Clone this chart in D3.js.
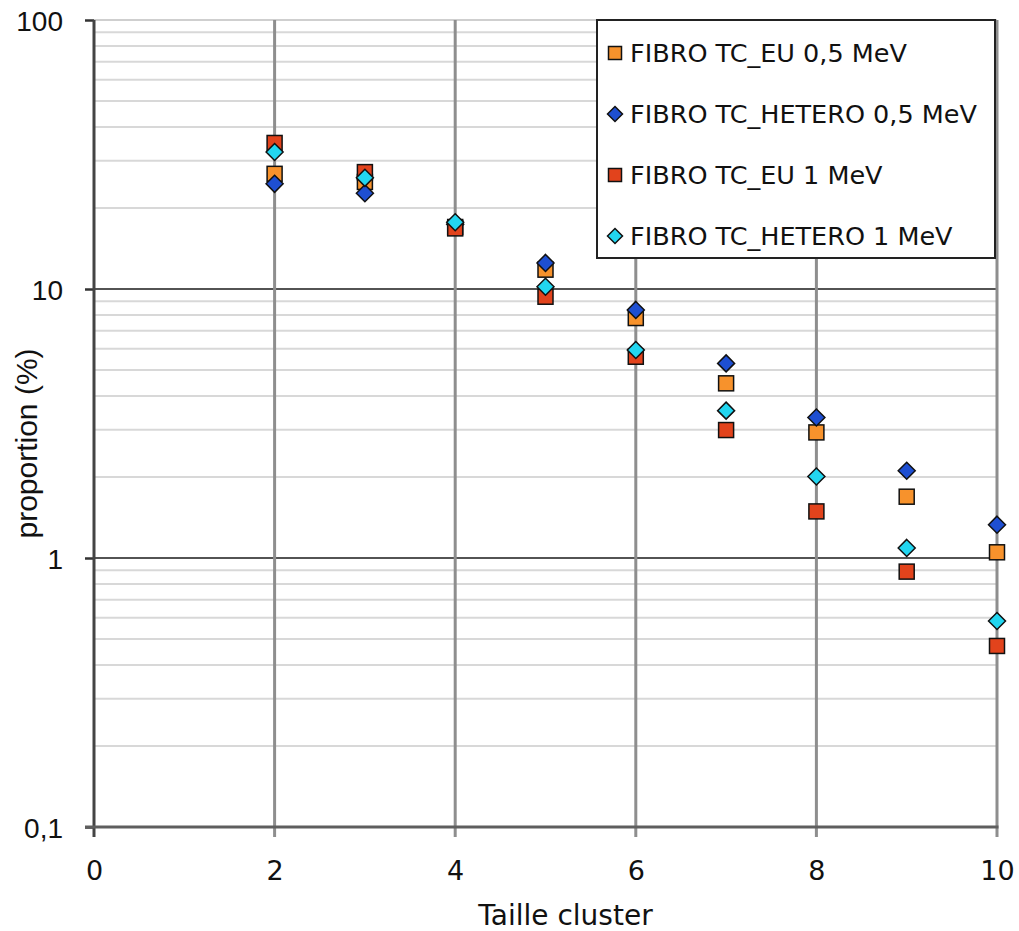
<!DOCTYPE html>
<html><head><meta charset="utf-8">
<script src="https://cdn.jsdelivr.net/npm/d3@7"></script>
<style>body{margin:0;background:#fff}svg{display:block}</style>
</head><body>
<svg id="chart" width="1019" height="931"></svg>
<script>
const xValues = [2, 3, 4, 5, 6, 7, 8, 9, 10];
const seriesNames = ["FIBRO TC_EU 0,5 MeV", "FIBRO TC_HETERO 0,5 MeV", "FIBRO TC_EU 1 MeV", "FIBRO TC_HETERO 1 MeV"];
const euHalf     = [26.8, 25.0, 17.0, 11.8, 7.8, 4.46, 2.93, 1.69, 1.05];
const heteroHalf = [24.6, 22.7, 17.4, 12.5, 8.36, 5.29, 3.33, 2.11, 1.33];
const euOne      = [34.9, 27.2, 16.8, 9.36, 5.6, 2.99, 1.49, 0.89, 0.471];
const heteroOne  = [32.3, 25.9, 17.7, 10.2, 5.93, 3.53, 2.01, 1.09, 0.583];
const seriesColors = ["#F7922C", "#1E4FD2", "#E2431C", "#22D6F0"];
const seriesShapes = ["square", "diamond", "square", "diamond"];
const xTicks = [0, 2, 4, 6, 8, 10];
const yTicks = [0.1, 1, 10, 100];
const yTickLabels = ["0,1", "1", "10", "100"];

const allSeries = [euHalf, heteroHalf, euOne, heteroOne];
const svg = d3.select("#chart");
const m = {left: 94, right: 22, top: 20, bottom: 104};
const W = 1019, H = 931;
const x = d3.scaleLinear().domain([0, 10]).range([m.left, W - m.right]);
const y = d3.scaleLog().domain([0.1, 100]).range([H - m.bottom, m.top]);

// minor y gridlines
const minor = [];
[0.1, 1, 10].forEach(d => { for (let k = 2; k <= 9; k++) minor.push(d * k); });
svg.append("g").selectAll("line").data(minor).join("line")
  .attr("x1", x(0)).attr("x2", x(10))
  .attr("y1", d => y(d)).attr("y2", d => y(d))
  .attr("stroke", "#d8d8d8").attr("stroke-width", 2);
svg.append("line").attr("x1", x(0)).attr("x2", x(10)).attr("y1", y(100)).attr("y2", y(100))
  .attr("stroke", "#cfcfcf").attr("stroke-width", 2);
// major y gridlines
svg.append("g").selectAll("line").data([1, 10]).join("line")
  .attr("x1", x(0)).attr("x2", x(10))
  .attr("y1", d => y(d)).attr("y2", d => y(d))
  .attr("stroke", "#1a1a1a").attr("stroke-width", 1.6);
// x gridlines
svg.append("g").selectAll("line").data(xTicks.filter(d => d > 0)).join("line")
  .attr("x1", d => x(d)).attr("x2", d => x(d))
  .attr("y1", y(100)).attr("y2", y(0.1) + 10)
  .attr("stroke", "#8e8e8e").attr("stroke-width", 3);

// axes
const yAxis = d3.axisLeft(y).tickValues(yTicks).tickSize(9).tickFormat((d, i) => yTickLabels[i]);
const gy = svg.append("g").attr("transform", `translate(${m.left},0)`).call(yAxis);
gy.select(".domain").remove();
gy.selectAll(".tick line").attr("stroke", "#333").attr("stroke-width", 2.5);
gy.selectAll(".tick text").attr("x", -31).attr("dy", "0.36em")
  .style("font-family", "'Liberation Sans', Arial, sans-serif").style("font-size", "28px").attr("fill", "#111");
svg.append("line").attr("x1", m.left).attr("x2", m.left).attr("y1", y(100)).attr("y2", y(0.1) + 10)
  .attr("stroke", "#444").attr("stroke-width", 3);

const xAxis = d3.axisBottom(x).tickValues(xTicks).tickSize(0).tickFormat(d3.format("d"));
const gx = svg.append("g").attr("transform", `translate(0,${H - m.bottom})`).call(xAxis);
gx.select(".domain").remove();
gx.selectAll(".tick text").attr("y", 53).attr("dy", 0)
  .style("font-family", "'DejaVu Sans', Verdana, sans-serif").style("font-size", "27px").attr("fill", "#111");
svg.append("line").attr("x1", m.left - 9).attr("x2", x(10) + 1.5).attr("y1", y(0.1)).attr("y2", y(0.1))
  .attr("stroke", "#5e5e5e").attr("stroke-width", 3);

// axis titles
svg.append("text").attr("x", (x(0) + x(10)) / 2 + 20).attr("y", 925).attr("text-anchor", "middle")
  .style("font-family", "'DejaVu Sans', Verdana, sans-serif").style("font-size", "28px").attr("fill", "#111")
  .text("Taille cluster");
svg.append("text").attr("transform", `translate(37,${(y(100)+y(0.1))/2 + 20}) rotate(-90)`).attr("text-anchor", "middle")
  .style("font-family", "'Liberation Sans', Arial, sans-serif").style("font-size", "30px").attr("fill", "#111")
  .text("proportion (%)");

function marker(sel, shape, size) {
  if (shape === "square") {
    sel.append("rect").attr("x", -size / 2).attr("y", -size / 2).attr("width", size).attr("height", size);
  } else {
    const r = size / 2 + 1;
    sel.append("path").attr("d", `M0,${-r}L${r},0L0,${r}L${-r},0Z`);
  }
}

// points
allSeries.forEach((vals, si) => {
  const g = svg.append("g");
  const pts = g.selectAll("g").data(vals.map((v, i) => ({x: xValues[i], v}))).join("g")
    .attr("transform", d => `translate(${x(d.x)},${y(d.v)})`);
  pts.each(function () { marker(d3.select(this), seriesShapes[si], 15); });
  pts.selectAll("rect,path").attr("fill", seriesColors[si]).attr("stroke", "#111").attr("stroke-width", 1.5);
});

// legend
const lg = svg.append("g");
lg.append("rect").attr("x", 597).attr("y", 20).attr("width", 398).attr("height", 238)
  .attr("fill", "#fff").attr("stroke", "#222").attr("stroke-width", 2);
seriesNames.forEach((name, i) => {
  const cy = 53 + i * 61;
  const mg = lg.append("g").attr("transform", `translate(615,${cy})`);
  marker(mg, seriesShapes[i], 13);
  mg.selectAll("rect,path").attr("fill", seriesColors[i]).attr("stroke", "#111").attr("stroke-width", 1.5);
  lg.append("text").attr("x", 630).attr("y", cy).attr("dy", "0.36em")
    .style("font-family", "'DejaVu Sans', Verdana, sans-serif").style("font-size", "25.5px").attr("fill", "#111")
    .text(name);
});
</script>
</body></html>
